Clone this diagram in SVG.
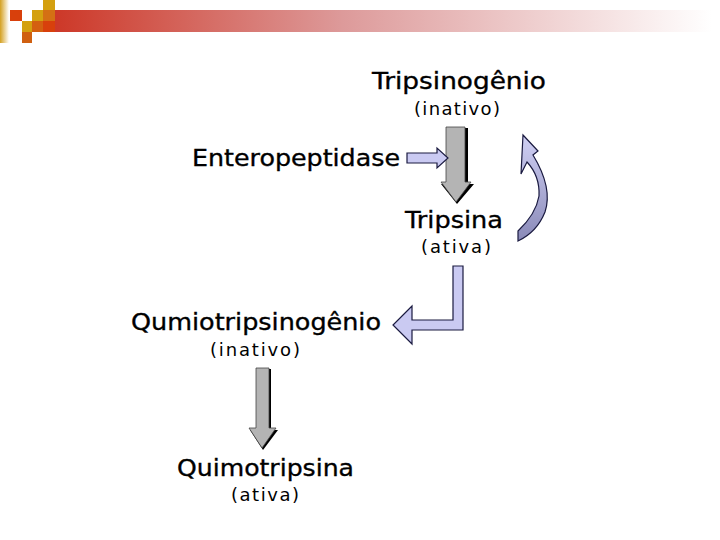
<svg xmlns="http://www.w3.org/2000/svg" width="720" height="540" viewBox="0 0 720 540">
<defs>
<linearGradient id="bar" x1="0" y1="0" x2="1" y2="0">
<stop offset="0" stop-color="#cc3322"/>
<stop offset="0.45" stop-color="#dd9a9a"/>
<stop offset="1" stop-color="#ffffff"/>
</linearGradient>
<linearGradient id="stripe" x1="0" y1="0" x2="1" y2="0">
<stop offset="0" stop-color="#d4a020"/>
<stop offset="1" stop-color="#ffffff"/>
</linearGradient>
<linearGradient id="curve" x1="0" y1="0" x2="0" y2="1">
<stop offset="0" stop-color="#d0d0f4"/>
<stop offset="1" stop-color="#8a8ab8"/>
</linearGradient>
<style>
.t{font-family:"DejaVu Sans","Verdana",sans-serif;fill:#000}
.big{font-size:23px;stroke:#000;stroke-width:0.35}
.sm{font-size:18px;font-weight:normal}
.gray{fill:#b4b4b4;stroke:#444;stroke-width:0.8}
.shadow{fill:#000}
.blue{fill:#cacaf2;stroke:#1a1a40;stroke-width:1.2}
</style>
</defs>
<g id="header">
<rect x="40" y="10" width="672" height="22" fill="url(#bar)"/>
<rect x="0" y="0" width="9" height="43" fill="url(#stripe)"/>
<rect x="10" y="10" width="12" height="11" fill="#d8400c"/>
<rect x="43" y="0" width="12" height="10" fill="#d4a010"/>
<rect x="32" y="10" width="11" height="11" fill="#d4a010"/>
<rect x="43" y="10" width="12" height="11" fill="#d47014"/>
<rect x="22" y="21" width="10" height="11" fill="#d4a010"/>
<rect x="32" y="21" width="11" height="11" fill="#d46010"/>
<rect x="43" y="21" width="12" height="11" fill="#d8400c"/>
<rect x="22" y="32" width="10" height="11" fill="#d06010"/>
</g>
<g id="tripsinogenio">
<text class="t big" x="372" y="89" textLength="174" lengthAdjust="spacingAndGlyphs">Tripsinogênio</text>
<text class="t sm" x="414" y="115" textLength="86" lengthAdjust="spacing">(inativo)</text>
</g>
<g id="enteropeptidase">
<text class="t big" x="192" y="166" textLength="208" lengthAdjust="spacingAndGlyphs">Enteropeptidase</text>
</g>
<g id="tripsina">
<text class="t big" x="405" y="228" textLength="98" lengthAdjust="spacingAndGlyphs">Tripsina</text>
<text class="t sm" x="421" y="253" textLength="70" lengthAdjust="spacing">(ativa)</text>
</g>
<g id="quimiotripsinogenio">
<text class="t big" x="131" y="330" textLength="250" lengthAdjust="spacingAndGlyphs">Qumiotripsinogênio</text>
<text class="t sm" x="210" y="356" textLength="90" lengthAdjust="spacing">(inativo)</text>
</g>
<g id="quimotripsina">
<text class="t big" x="177" y="476" textLength="177" lengthAdjust="spacingAndGlyphs">Quimotripsina</text>
<text class="t sm" x="231" y="501" textLength="68" lengthAdjust="spacing">(ativa)</text>
</g>
<g id="connectors">
<polygon class="shadow" points="448,128 468,128 468,184 474,184 457,204 441,184 448,184"/>
<polygon class="gray" points="446,127 465,127 465,182 471,182 456,202 441,182 446,182"/>
<polygon class="blue" points="407,153 437,153 437,148 448,158 437,168 437,163 407,163"/>
<path d="M523,135 L538,151 L533,155 Q553,188 545,212 Q537,232 518,241 L518,231 Q536,214 539,196 Q540,176 527,162 L521,174 Z" fill="url(#curve)" stroke="#1a1a40" stroke-width="1.2"/>
<polygon class="blue" points="453,266 463,266 463,330 412,330 412,344 393,325 412,306 412,320 453,320" stroke-width="1.8"/>
<polygon class="shadow" points="258,369 271,369 271,430 278,430 263,450 250,430 258,430"/>
<polygon class="gray" points="256,368 269,368 269,428 276,428 262,448 249,428 256,428"/>
</g>
</svg>
